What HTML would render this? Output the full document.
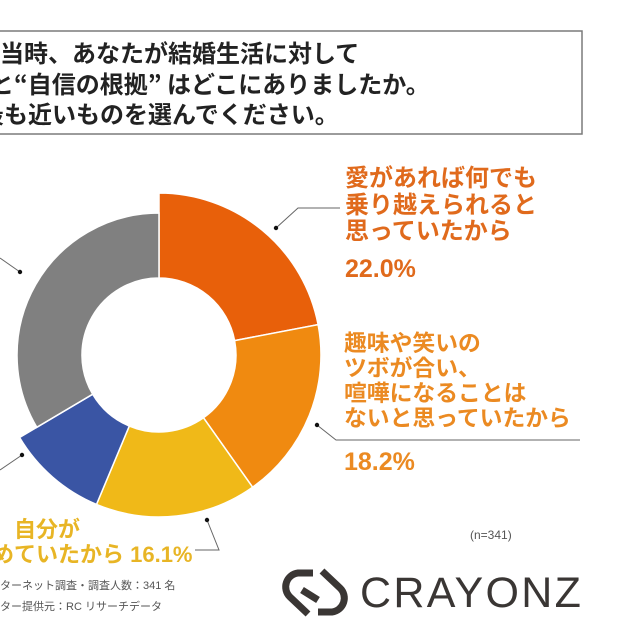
<!DOCTYPE html>
<html><head><meta charset="utf-8"><style>
body{margin:0;width:640px;height:640px;background:#fff;overflow:hidden;position:relative;font-family:"Liberation Sans","Noto Sans CJK JP",sans-serif}
.t{position:absolute;white-space:nowrap;font-weight:bold}
</style></head><body>
<svg width="640" height="640" style="position:absolute;left:0;top:0">
<rect x="-10" y="31" width="592" height="103" fill="#fff" stroke="#7a7a7a" stroke-width="1.5"/>
<g stroke="#fff" stroke-width="1.5">
<path d="M159,193 A162,162 0 0 1 318.1,324.6 L234.6,340.6 A77,77 0 0 0 159,278 Z" fill="#E8600A"/>
<path d="M318.1,324.6 A162,162 0 0 1 252.6,487.2 L203.5,417.8 A77,77 0 0 0 234.6,340.6 Z" fill="#F08A10"/>
<path d="M252.6,487.2 A162,162 0 0 1 96.5,504.4 L129.3,426 A77,77 0 0 0 203.5,417.8 Z" fill="#F0B918"/>
<path d="M96.5,504.4 A162,162 0 0 1 19.6,437.5 L92.7,394.2 A77,77 0 0 0 129.3,426 Z" fill="#3A55A4"/>
<path d="M36.8,427.3 A142,142 0 0 1 159,213 L159,278 A77,77 0 0 0 92.7,394.2 Z" fill="#808080"/>
</g>
<g stroke="#666" stroke-width="1" fill="none">
<polyline points="276,228 298,208 340,208"/>
<polyline points="317,425 336,440 580,440"/>
<polyline points="207,520 219,550 195,550"/>
<polyline points="20,272 0,258"/>
<polyline points="22,455 0,470"/>
</g>
<g fill="#111">
<circle cx="276" cy="228" r="2.2"/><circle cx="317" cy="425" r="2.2"/><circle cx="207" cy="520" r="2.2"/><circle cx="20" cy="272" r="2.2"/><circle cx="22" cy="455" r="2.2"/>
</g>
<g fill="none" stroke="#3a3634" stroke-width="7" stroke-linecap="butt">
<path d="M313,573 L298,573 A14,14 0 0 0 290,597 L308,614"/>
<path d="M318,612 L332,612 A14,14 0 0 0 340,588 L322,571"/>
<path d="M302,590 L318,600"/>
</g>
</svg>
<div class="t" style="left:0;top:37px;font-size:24px;line-height:30.5px;color:#222;font-family:'Noto Sans CJK JP',sans-serif">当時、あなたが結婚生活に対して<br><span style="margin-left:-10px">と“自信の根拠” はどこにありましたか。</span><br><span style="margin-left:-20px">最も近いものを選んでください。</span></div>
<div class="t" style="left:345px;top:166px;font-size:24px;line-height:26.5px;color:#E06A1C">愛があれば何でも<br>乗り越えられると<br>思っていたから</div>
<div class="t" style="left:345px;top:255px;font-size:25px;color:#E06A1C">22.0%</div>
<div class="t" style="left:344px;top:331px;font-size:22.8px;line-height:25px;color:#EB8A22">趣味や笑いの<br>ツボが合い、<br>喧嘩になることは<br>ないと思っていたから</div>
<div class="t" style="left:344px;top:448px;font-size:25px;color:#EB8A22">18.2%</div>
<div class="t" style="left:14px;top:512px;font-size:22px;color:#E8B525">自分が</div>
<div class="t" style="left:-8px;top:537px;font-size:22px;color:#E8B525">めていたから 16.1%</div>
<div class="t" style="left:0;top:577px;font-size:11px;color:#555;font-weight:normal">ターネット調査・調査人数：341 名</div>
<div class="t" style="left:0;top:598px;font-size:11px;color:#555;font-weight:normal">ター提供元：RC リサーチデータ</div>
<div class="t" style="left:470px;top:528px;font-size:12px;color:#555;font-weight:normal">(n=341)</div>
<div class="t" style="left:360px;top:569px;font-size:43px;letter-spacing:2.3px;color:#3a3634;font-weight:normal">CRAYONZ</div>
</body></html>
